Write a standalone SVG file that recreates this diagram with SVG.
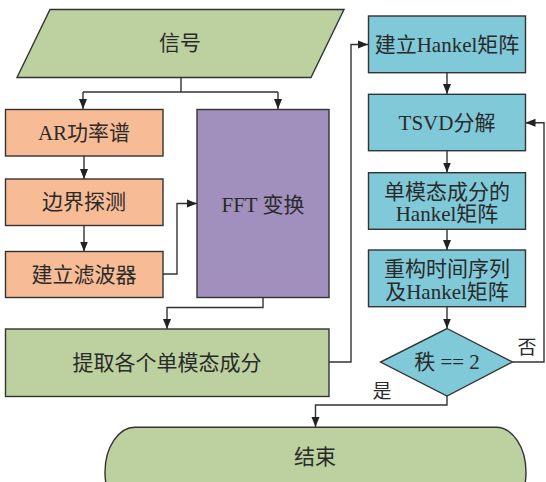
<svg xmlns="http://www.w3.org/2000/svg" width="546" height="482" viewBox="0 0 546 482">
<style>
.n{stroke:#333;stroke-width:1.4}
.g{fill:#bcd19f}.o{fill:#f7bb95}.p{fill:#a190bd}.c{fill:#80c9d8}
text{font-family:"Liberation Serif","Noto Sans CJK SC",serif;font-size:21px;fill:#2a2a2a;text-anchor:middle;dominant-baseline:central}
.lbl{font-size:19px}
.e{fill:none;stroke:#333;stroke-width:1.4}
</style>
<defs>
<marker id="ah" markerUnits="userSpaceOnUse" markerWidth="10" markerHeight="10" viewBox="0 0 10 10" refX="10" refY="5" orient="auto">
<path d="M0,1 L10,5 L0,9 Z" fill="#222"/>
</marker>
</defs>
<rect width="546" height="482" fill="#fff"/>
<g id="connectors">
<path class="e" d="M181,77.5 V92 M83,92 H278"/>
<path class="e" d="M83,92 V109" marker-end="url(#ah)"/>
<path class="e" d="M278,92 V109" marker-end="url(#ah)"/>
<path class="e" d="M84,156 V179" marker-end="url(#ah)"/>
<path class="e" d="M84,225.5 V251.5" marker-end="url(#ah)"/>
<path class="e" d="M163,274 H177 V203.5 H197" marker-end="url(#ah)"/>
<path class="e" d="M263,297.5 V307.5 H167 V329" marker-end="url(#ah)"/>
<path class="e" d="M329,362 H351 V44.5 H368" marker-end="url(#ah)"/>
<path class="e" d="M447,72.7 V94" marker-end="url(#ah)"/>
<path class="e" d="M447,150.7 V172.5" marker-end="url(#ah)"/>
<path class="e" d="M447,229.3 V250" marker-end="url(#ah)"/>
<path class="e" d="M447,306.7 V328.5" marker-end="url(#ah)"/>
<path class="e" d="M512.5,362 H544 V122.7 H525.5" marker-end="url(#ah)"/>
<path class="e" d="M447,396 V405 H315.5 V427" marker-end="url(#ah)"/>
<text class="lbl" x="527" y="347">否</text>
<text class="lbl" x="382" y="391">是</text>
</g>
<g id="signal">
<polygon class="n g" points="50,9.5 344,9.5 311,77.5 17,77.5"/>
<text x="180" y="43">信号</text>
</g>
<g id="ar">
<rect class="n o" x="5.5" y="109.5" width="157.5" height="46.5"/>
<text x="84" y="133">AR功率谱</text>
</g>
<g id="edge">
<rect class="n o" x="5.5" y="179" width="157.5" height="46.5"/>
<text x="84" y="202">边界探测</text>
</g>
<g id="filter">
<rect class="n o" x="5.5" y="251.5" width="157.5" height="46"/>
<text x="84" y="274.5">建立滤波器</text>
</g>
<g id="fft">
<rect class="n p" x="197" y="109.5" width="132" height="188"/>
<text x="263" y="205">FFT 变换</text>
</g>
<g id="extract">
<rect class="n g" x="5.5" y="329" width="323.5" height="67.5"/>
<text x="167" y="363">提取各个单模态成分</text>
</g>
<g id="hankel">
<rect class="n c" x="368.5" y="16" width="157" height="56.7"/>
<text x="447" y="45">建立Hankel矩阵</text>
</g>
<g id="tsvd">
<rect class="n c" x="368.5" y="94.3" width="157" height="56.4"/>
<text x="447" y="123">TSVD分解</text>
</g>
<g id="single">
<rect class="n c" x="368.5" y="172.7" width="157" height="56.6"/>
<text x="447" y="191.7">单模态成分的</text>
<text x="447" y="213.5">Hankel矩阵</text>
</g>
<g id="rebuild">
<rect class="n c" x="368.5" y="250" width="157" height="56.7"/>
<text x="447" y="269.3">重构时间序列</text>
<text x="447" y="291.7">及Hankel矩阵</text>
</g>
<g id="rank">
<polygon class="n c" points="447,328.5 512.5,362 447,396 380.5,362"/>
<text x="447" y="362">秩 == 2</text>
</g>
<g id="end">
<rect class="n g" x="105" y="427.3" width="421" height="90" rx="30" ry="45"/>
<text x="315" y="457">结束</text>
</g>
</svg>
